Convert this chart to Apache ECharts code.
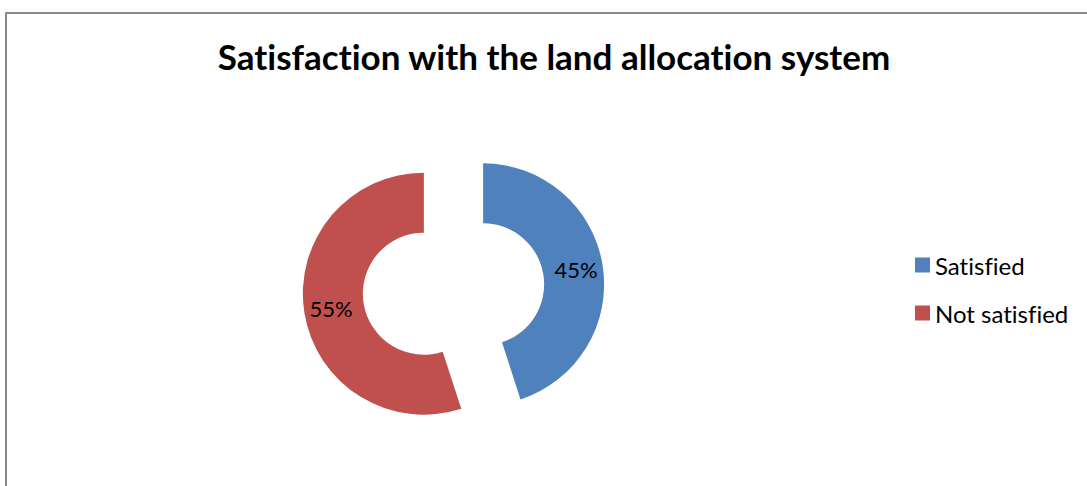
<!DOCTYPE html>
<html>
<head>
<meta charset="utf-8">
<style>
  html, body { margin: 0; padding: 0; background: #fff; }
  #chart { width: 1087px; height: 486px; }
  /* plain letter shapes, no joined glyph pairs */
  #chart text { font-variant-ligatures: none; font-feature-settings: "liga" 0, "dlig" 0; }
</style>
<script src="https://cdn.jsdelivr.net/npm/echarts@6/dist/echarts.min.js"></script>
</head>
<body>
<div id="chart"></div>
<script>
// Survey answers: share of respondents per category (percent)
const categories = ['Satisfied', 'Not satisfied'];
const shares = [45, 55];
const colors = ['#4F81BD', '#C0504D'];
const titleText = 'Satisfaction with the land allocation system';

const FONT = 'Lato, "Open Sans", sans-serif';

const chart = echarts.init(document.getElementById('chart'), null, { renderer: 'svg' });

chart.setOption({
  animation: false,
  backgroundColor: '#ffffff',
  title: {
    text: titleText,
    left: 549,
    textAlign: 'center',
    top: 33,
    textStyle: { fontFamily: FONT, fontWeight: 'bold', fontSize: 35, color: '#000' }
  },
  legend: {
    orient: 'vertical',
    left: 915,
    top: 253,
    padding: 0,
    itemWidth: 15,
    itemHeight: 15,
    itemGap: 24,
    icon: 'rect',
    selectedMode: false,
    data: categories,
    textStyle: { fontFamily: FONT, fontSize: 24, color: '#000', lineHeight: 23 }
  },
  graphic: [{
    type: 'rect',
    silent: true,
    shape: { x: 6, y: 13, width: 1200, height: 600 },
    style: { fill: 'none', stroke: '#8a8a8a', lineWidth: 2 }
  }],
  series: [{
    type: 'pie',
    center: [453.5, 289],
    radius: [61, 121],
    startAngle: 90,
    clockwise: true,
    selectedMode: 'multiple',
    selectedOffset: 30,
    avoidLabelOverlap: false,
    emphasis: { disabled: true },
    label: {
      show: true,
      position: 'inside',
      formatter: '{d}%',
      fontFamily: FONT,
      fontSize: 22,
      color: '#000'
    },
    labelLine: { show: false },
    itemStyle: { borderWidth: 0 },
    data: categories.map((name, i) => ({
      name: name,
      value: shares[i],
      selected: true,
      itemStyle: { color: colors[i] }
    }))
  }]
});
</script>
</body>
</html>
